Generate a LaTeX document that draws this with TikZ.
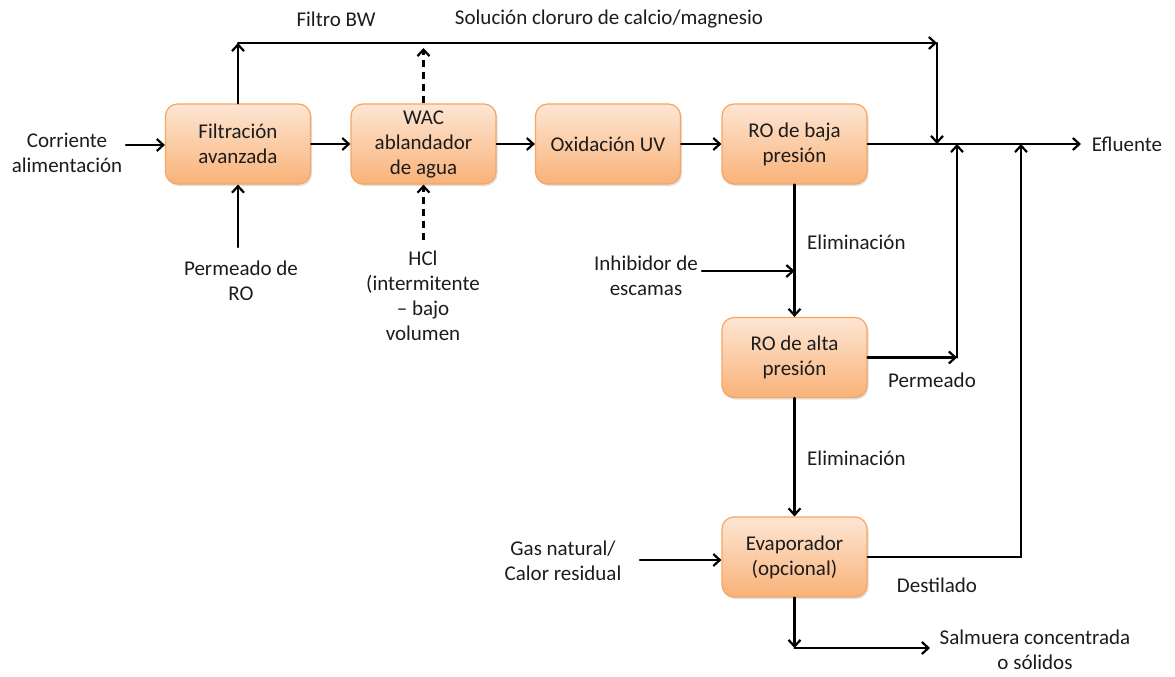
\documentclass[tikz,border=0pt]{standalone}
\usepackage{fontspec}
\setmainfont{Carlito}
\usetikzlibrary{arrows.meta,shadows}
\definecolor{boxtop}{RGB}{253,230,212}
\definecolor{boxbot}{RGB}{249,178,120}
\definecolor{boxedge}{RGB}{247,165,98}
\definecolor{txt}{RGB}{28,28,28}
\begin{document}
\begin{tikzpicture}[x=1pt,y=-1pt,
  proc/.style={draw=boxedge, line width=1.2pt, rounded corners=12pt,
    top color=boxtop, bottom color=boxbot, minimum width=145pt, minimum height=80pt,
    align=center, inner sep=2pt, font=\fontsize{21}{25}\selectfont, text=txt,
    drop shadow={shadow xshift=1.5pt,shadow yshift=-2pt,opacity=0.25}},
  lbl/.style={align=center, inner sep=3pt, font=\fontsize{21}{25}\selectfont, text=txt},
  plain/.style={line width=2.2pt, line cap=round},
  flow/.style={plain, -{Straight Barb[length=6.5pt,width=12pt]}},
  dflow/.style={flow, line cap=butt, dash pattern=on 7pt off 5pt}]
\useasboundingbox (0,0) rectangle (1175,677);

% process boxes
\node[proc] (fil) at (238,144) {Filtración\\avanzada};
\node[proc] (wac) at (423.5,144) {WAC\\ablandador\\de agua};
\node[proc] (uv)  at (608,144) {Oxidación UV};
\node[proc] (rob) at (794.5,144) {RO de baja\\presión};
\node[proc] (roa) at (794.5,357.5) {RO de alta\\presión};
\node[proc] (eva) at (794.5,557) {Evaporador\\(opcional)};

% labels
\node[lbl] (cor) at (67,153) {Corriente\\alimentación};
\node[lbl] (per) at (241,281) {Permeado de\\RO};
\node[lbl] (hcl) at (423,296) {HCl\\(intermitente\\– bajo\\volumen};
\node[lbl] (fbw) at (336,19) {Filtro BW};
\node[lbl] (sol) at (609,19) {Solución cloruro de calcio/magnesio};
\node[lbl] (efl) at (1127,144) {Efluente};
\node[lbl, anchor=west] (el1) at (804,242) {Eliminación};
\node[lbl] (inh) at (646,276) {Inhibidor de\\escamas};
\node[lbl] (prm) at (932,380) {Permeado};
\node[lbl, anchor=west] (el2) at (804,458) {Eliminación};
\node[lbl] (gas) at (563,561) {Gas natural/\\Calor residual};
\node[lbl] (dst) at (937,585) {Destilado};
\node[lbl] (sal) at (1035,650) {Salmuera concentrada\\o sólidos};

% junction coordinates
\coordinate (tl) at (238,43);
\coordinate (tr) at (937,43);
\coordinate (pj) at (957,357.5);
\coordinate (dj) at (1021,557);
\coordinate (bj) at (794.5,648);
\coordinate (salin) at (930,648);
\coordinate (inhp) at (702,271);
\coordinate (gasp) at (640,560);
\coordinate (corp) at (126,145);
\coordinate (perp) at (238,247);
\coordinate (hclp) at (423.5,240);
\coordinate (wact) at (423.5,48);
\coordinate (eflp) at (1081,144);

% main line
\draw[flow] (corp) -- (corp -| fil.west);
\draw[flow] (fil) -- (wac);
\draw[flow] (wac) -- (uv);
\draw[flow] (uv) -- (rob);
\draw[flow] (rob.east) -- (eflp);

% top bypass
\draw[flow] (fil.north) -- (tl);
\draw[flow] (tl) -- (tr);
\draw[flow] (tr) -- (tr |- rob.east);
\draw[dflow] (wac.north) -- (wact);

% bottom inputs
\draw[flow] (perp) -- (fil.south);
\draw[dflow] (hclp) -- (wac.south);

% RO chain
\draw[flow] (rob.south) -- (roa.north);
\draw[flow] (inhp) -- (inhp -| rob.south);
\draw[flow] (roa.east) -- (pj);
\draw[flow] (pj) -- (pj |- rob.east);
\draw[flow] (roa.south) -- (eva.north);
\draw[flow] (gasp) -- (gasp -| eva.west);
\draw[plain] (eva.east) -- (dj);
\draw[flow] (dj) -- (dj |- rob.east);
\draw[flow] (eva.south) -- (bj);
\draw[flow] (bj) -- (salin);
\end{tikzpicture}
\end{document}
